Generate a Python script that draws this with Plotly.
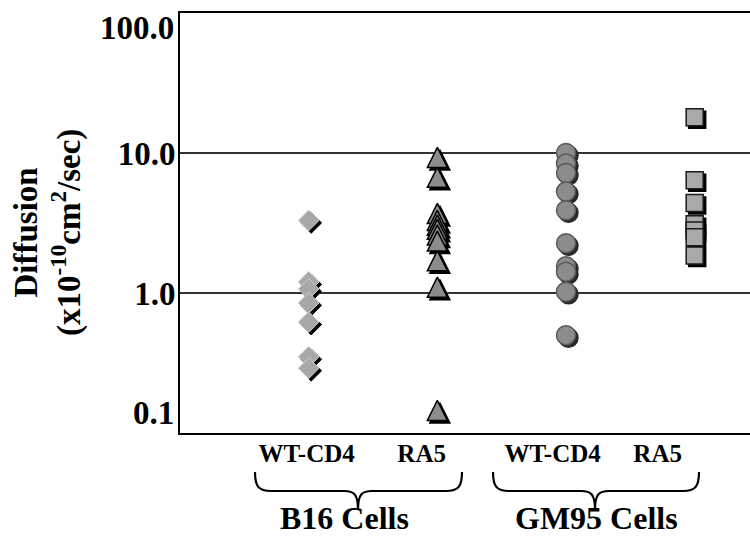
import math
import plotly.graph_objects as go

# ---------------- data ----------------
categories = ["WT-CD4", "RA5", "WT-CD4", "RA5"]
groups = ["B16 Cells", "GM95 Cells"]
b16_wt_cd4 = [3.3, 1.2, 1.07, 0.85, 0.62, 0.35, 0.29]
b16_ra5 = [9.3, 6.7, 3.7, 3.3, 3.05, 2.85, 2.6, 2.35, 1.7, 1.1, 0.145]
gm95_wt_cd4 = [10.0, 8.4, 7.2, 5.3, 3.9, 2.27, 1.55, 1.42, 1.02, 0.5]
gm95_ra5 = [18.0, 6.4, 4.4, 3.1, 2.8, 2.5, 1.85]
y_tick_vals = [1, 10]
y_tick_text = ["1.0", "10.0"]
y_end_vals = [0.1, 100]          # end labels, drawn just inside the frame
y_end_text = ["0.1", "100.0"]
y_title = "Diffusion<br>(x10<sup>-10</sup>cm<sup>2</sup>/sec)"

# ---------------- layout geometry ----------------
WIDTH, HEIGHT = 750, 542
L, R, T, B = 180, 750, 13, 433
PW, PH = R - L, B - T
X_RANGE = [-1.0, 3.43]
Y_RANGE = [-1.0, 2.0]           # log10 range
label_pos = [-0.016, 0.878, 1.896, 2.712]  # tick label centres (x units)
FONT = "Liberation Serif"


def px_x(px):
    return (px - L) / PW


def px_y(py):
    return (B - py) / PH


def x_shift(dx_px):
    span = X_RANGE[1] - X_RANGE[0]
    d = dx_px * span / PW
    return [X_RANGE[0] - d, X_RANGE[1] - d]


def y_shift(dy_px):
    span = Y_RANGE[1] - Y_RANGE[0]
    s = dy_px * span / PH
    return [Y_RANGE[0] + s, Y_RANGE[1] + s]


fig = go.Figure()

SH = 2.5    # shadow offset px
TRI_R = 10  # arrow marker half size (apex anchored)

series = [
    # idx, values, symbol, size, fill, outline, outline width, shadow colour, apex-anchored
    (0, b16_wt_cd4, "diamond", 16, "#a8a8a8", "#cfcfcf", 1, "#000000", False),
    (1, b16_ra5, "arrow-up", TRI_R * 2, "#8c8c8c", "#000000", 1.5, "#000000", True),
    (2, gm95_wt_cd4, "circle", 19, "#8c8c8c", "#5a5a5a", 1.5, "#2a2a2a", False),
    (3, gm95_ra5, "square", 17, "#a9a9a9", "#1a1a1a", 1.5, "#000000", False),
]

# empty trace keeps the visible frame axes (x / y) as the base subplot
fig.add_trace(go.Scatter(x=[], y=[], mode="markers", xaxis="x", yaxis="y",
                         showlegend=False, hoverinfo="skip"))
# shadows (overlay x2/y2, x2/y4) are layered below the markers (x3/y3, x3/y5)
for idx, vals, sym, size, fill, lc, lw, shc, apex in series:
    fig.add_trace(go.Scatter(x=[idx] * len(vals), y=vals, mode="markers",
                             xaxis="x2", yaxis="y4" if apex else "y2",
                             marker=dict(symbol=sym, size=size, color=shc,
                                         line=dict(color=shc, width=lw)),
                             showlegend=False, hoverinfo="skip"))
for idx, vals, sym, size, fill, lc, lw, shc, apex in series:
    fig.add_trace(go.Scatter(x=[idx] * len(vals), y=vals, mode="markers",
                             xaxis="x3", yaxis="y3" if apex else "y5",
                             marker=dict(symbol=sym, size=size, color=fill,
                                         line=dict(color=lc, width=lw)),
                             name=categories[idx], showlegend=False))

tick_font = dict(family=FONT, size=33, color="black", weight="bold")

fig.update_layout(
    width=WIDTH, height=HEIGHT,
    margin=dict(l=L, r=WIDTH - R, t=T, b=HEIGHT - B, pad=0, autoexpand=False),
    paper_bgcolor="white", plot_bgcolor="white",
    showlegend=False,
    xaxis=dict(range=X_RANGE, showgrid=False, zeroline=False, showline=True,
               linecolor="black", linewidth=2, mirror=True, ticks="", automargin=False,
               tickvals=label_pos, ticktext=categories, ticklabelstandoff=-3,
               tickfont=dict(family=FONT, size=25, color="black", weight="bold")),
    yaxis=dict(type="log", range=Y_RANGE, showline=True, linecolor="black", linewidth=2,
               mirror=False, ticks="", tickvals=y_tick_vals, ticktext=y_tick_text,
               showgrid=True, gridcolor="#333333", gridwidth=1.5, zeroline=False,
               automargin=False, ticklabelstandoff=-4, tickfont=tick_font),
    xaxis2=dict(range=x_shift(SH), overlaying="x", visible=False),
    yaxis2=dict(type="log", range=y_shift(SH), overlaying="y", visible=False),
    xaxis3=dict(range=X_RANGE, overlaying="x", visible=False),
    yaxis3=dict(type="log", range=y_shift(-TRI_R), overlaying="y", visible=False),
    yaxis4=dict(type="log", range=y_shift(-TRI_R + SH), overlaying="y", visible=False),
    yaxis5=dict(type="log", range=Y_RANGE, overlaying="y", visible=False),
)

# end tick labels of the y axis, nudged inside the frame as in the original
for v, t, shift in zip(y_end_vals, y_end_text, [20, -15]):
    fig.add_annotation(text=t, xref="paper", yref="y", x=px_x(176), y=math.log10(v),
                       yshift=shift, xanchor="right", yanchor="middle", showarrow=False,
                       font=tick_font)

# y axis title
fig.add_annotation(text=y_title, xref="paper", yref="paper", x=px_x(48), y=px_y(233),
                   xanchor="center", yanchor="middle", textangle=-90, showarrow=False,
                   font=dict(family=FONT, size=33, color="black", weight="bold"))

# ---------------- braces and group labels ----------------
def brace_path(xl, xr, xt, ytop=472, ymid=491, ytip=510):
    c = lambda x, y: f"{px_x(x):.5f},{px_y(y):.5f}"
    return (f"M {c(xl, ytop)} "
            f"C {c(xl, ymid - 4)} {c(xl + 4, ymid)} {c(xl + 16, ymid)} "
            f"L {c(xt - 14, ymid)} "
            f"C {c(xt - 4, ymid)} {c(xt, ymid + 3)} {c(xt, ytip)} "
            f"C {c(xt, ymid + 3)} {c(xt + 4, ymid)} {c(xt + 14, ymid)} "
            f"L {c(xr - 16, ymid)} "
            f"C {c(xr - 4, ymid)} {c(xr, ymid - 4)} {c(xr, ytop)}")


braces = [(255, 462, 358), (493, 699, 595)]
for (xl, xr, xt) in braces:
    fig.add_shape(type="path", xref="paper", yref="paper",
                  path=brace_path(xl, xr, xt), line=dict(color="black", width=2.2))

group_label_px = [(344, 518), (596, 518)]
for name, (gx, gy) in zip(groups, group_label_px):
    fig.add_annotation(text=name, xref="paper", yref="paper", x=px_x(gx), y=px_y(gy),
                       xanchor="center", yanchor="middle", showarrow=False,
                       font=dict(family=FONT, size=32, color="black", weight="bold"))

# the page body has a default 8px margin; remove it so the figure sits at (0, 0)
fig.write_html("out.html", config={"displayModeBar": False},
               post_script="document.body.style.margin='0';")
